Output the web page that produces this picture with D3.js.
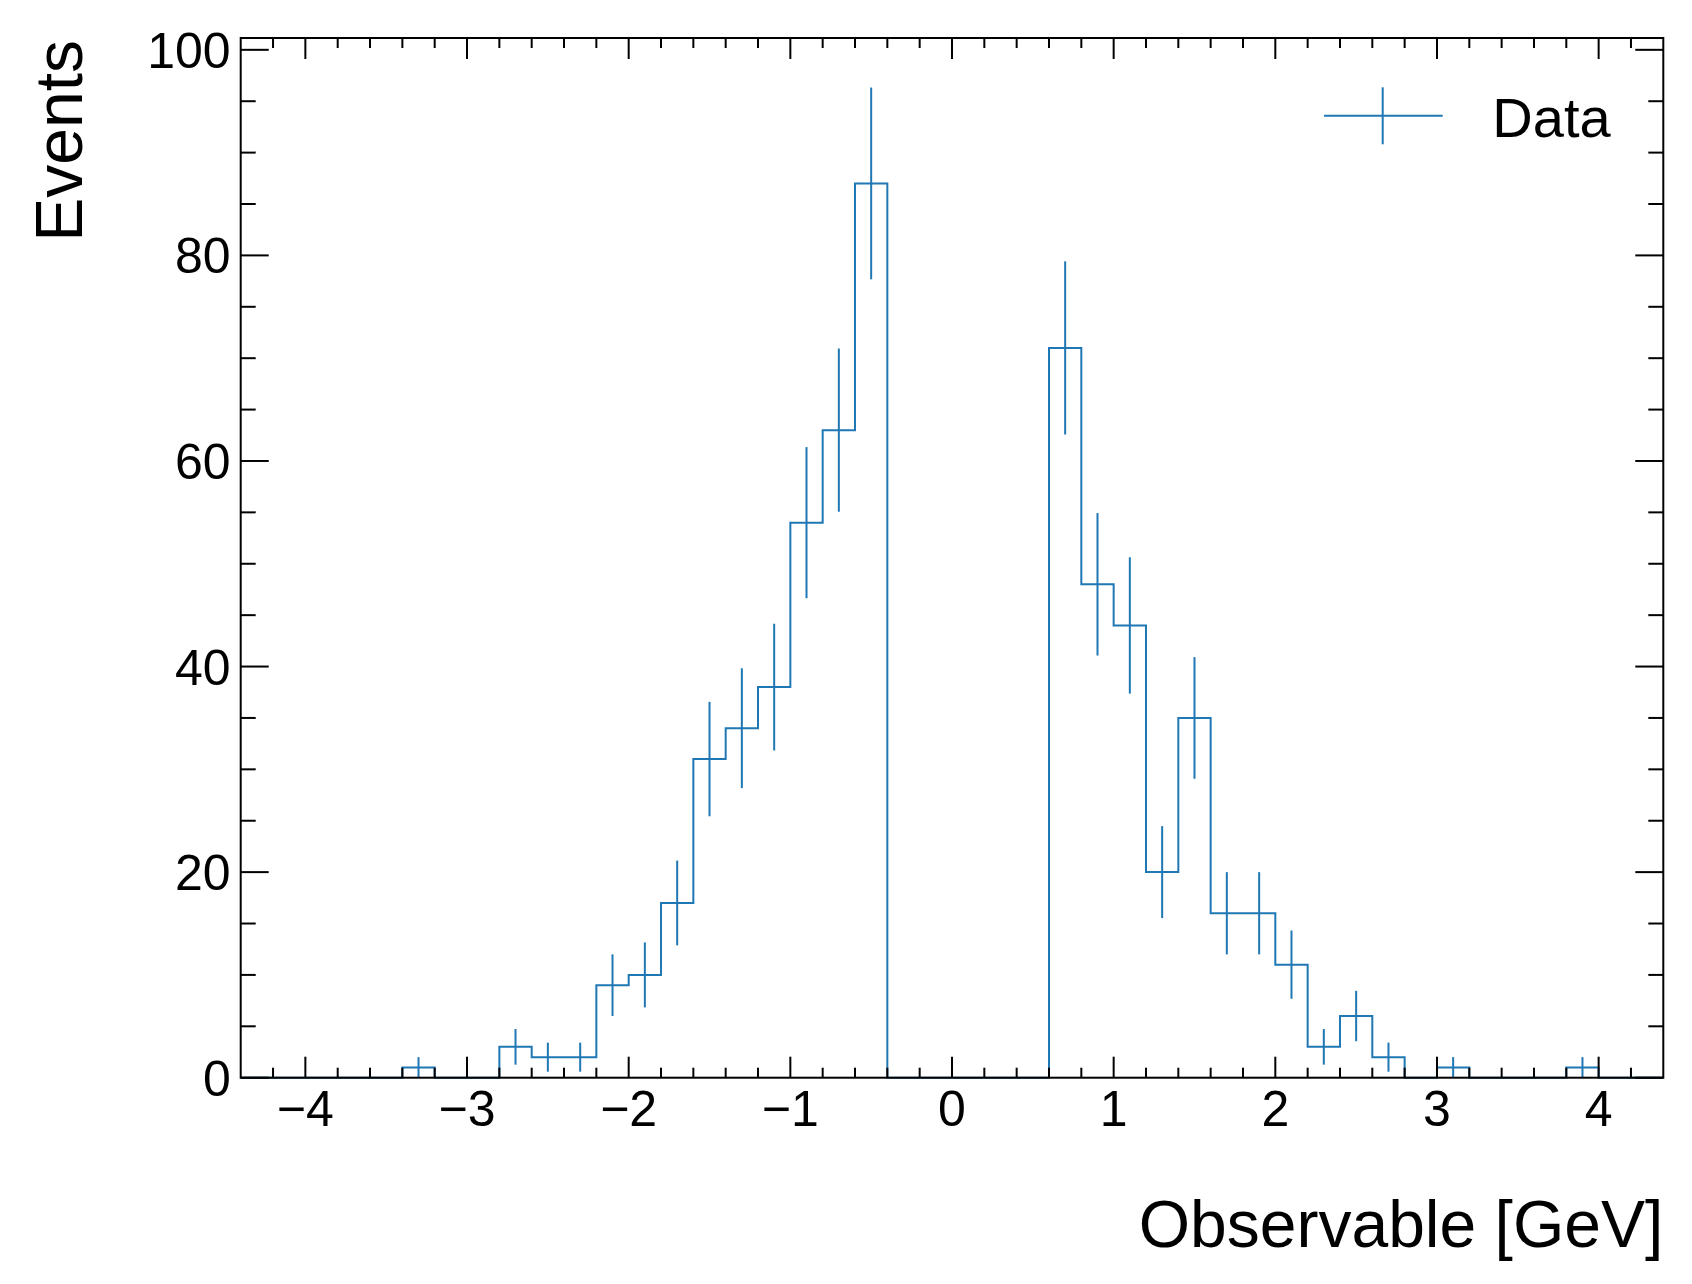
<!DOCTYPE html>
<html>
<head>
<meta charset="utf-8">
<script src="https://cdn.jsdelivr.net/npm/d3@7"></script>
<style>
  html, body { margin: 0; padding: 0; background: #fff; }
  svg text { font-family: "Liberation Sans", Arial, Helvetica, sans-serif; fill: #000; }
</style>
</head>
<body>
<svg id="chart" width="1692" height="1284"></svg>
<script>
// ---- data ----
const binEdgesStart = -4.4;
const binWidth = 0.2;
// counts for the 44 bins from -4.4 to 4.4
const counts = [
  0, 0, 0, 0, 0,          // -4.4 .. -3.4
  1,                      // -3.4 .. -3.2
  0, 0,                   // -3.2 .. -2.8
  3, 2, 2,                // -2.8 .. -2.2
  9, 10, 17, 31, 34, 38,  // -2.2 .. -1.0
  54, 63, 87,             // -1.0 .. -0.4
  0, 0, 0, 0, 0,          // -0.4 .. 0.6
  71, 48, 44, 20, 35,     // 0.6 .. 1.6
  16, 16, 11, 3, 6, 2,    // 1.6 .. 2.8
  0,                      // 2.8 .. 3.0
  1,                      // 3.0 .. 3.2
  0, 0, 0,                // 3.2 .. 3.8
  1,                      // 3.8 .. 4.0
  0, 0                    // 4.0 .. 4.4
];
const xMajorTicks = [-4, -3, -2, -1, 0, 1, 2, 3, 4];
const yMajorTicks = [0, 20, 40, 60, 80, 100];
const xLabel = "Observable [GeV]";
const yLabel = "Events";
const legendLabel = "Data";

// ---- layout ----
const W = 1692, H = 1284;
const X0 = 240.7, X1 = 1663.3, Y0 = 38, Y1 = 1077.7;
const color = "#1f77b4";
const svg = d3.select("#chart");

const x = d3.scaleLinear().domain([-4.4, 4.4]).range([X0, X1]);
const y = d3.scaleLinear().domain([0, 101.15]).range([Y1, Y0]);

const bins = counts.map((c, i) => {
  const lo = +(binEdgesStart + i * binWidth).toFixed(6);
  return { lo: lo, hi: +(lo + binWidth).toFixed(6), c: c };
});

// histogram step path
const stepPts = [[bins[0].lo, 0]];
bins.forEach(b => { stepPts.push([b.lo, b.c]); stepPts.push([b.hi, b.c]); });
stepPts.push([bins[bins.length - 1].hi, 0]);
const line = d3.line().x(d => x(d[0])).y(d => y(d[1]));

const plot = svg.append("g");
plot.append("path")
  .attr("d", line(stepPts))
  .attr("fill", "none")
  .attr("stroke", color)
  .attr("stroke-width", 2);

// error bars
plot.selectAll("line.err")
  .data(bins.filter(b => b.c > 0))
  .join("line")
  .attr("class", "err")
  .attr("x1", d => x((d.lo + d.hi) / 2))
  .attr("x2", d => x((d.lo + d.hi) / 2))
  .attr("y1", d => y(d.c - Math.sqrt(d.c)))
  .attr("y2", d => y(d.c + Math.sqrt(d.c)))
  .attr("stroke", color)
  .attr("stroke-width", 2);

// ---- frame & ticks ----
const axisColor = "#000";
const axes = svg.append("g").attr("stroke", axisColor).attr("stroke-width", 2);
axes.append("rect")
  .attr("x", X0).attr("y", Y0)
  .attr("width", X1 - X0).attr("height", Y1 - Y0)
  .attr("fill", "none");

const xMinor = d3.range(-4.4, 4.4001, 0.2).map(v => +v.toFixed(6))
  .filter(v => v > -4.4 && v < 4.4 && !xMajorTicks.some(m => Math.abs(m - v) < 1e-6));
const yMinor = d3.range(0, 101, 5).filter(v => v > 0 && v % 20 !== 0);

const xMajLen = 21, xMinLen = 10, yMajLen = 28, yMinLen = 15;
xMajorTicks.forEach(v => {
  axes.append("line").attr("x1", x(v)).attr("x2", x(v)).attr("y1", Y1).attr("y2", Y1 - xMajLen);
  axes.append("line").attr("x1", x(v)).attr("x2", x(v)).attr("y1", Y0).attr("y2", Y0 + xMajLen);
});
xMinor.forEach(v => {
  axes.append("line").attr("x1", x(v)).attr("x2", x(v)).attr("y1", Y1).attr("y2", Y1 - xMinLen);
  axes.append("line").attr("x1", x(v)).attr("x2", x(v)).attr("y1", Y0).attr("y2", Y0 + xMinLen);
});
yMajorTicks.forEach(v => {
  axes.append("line").attr("x1", X0).attr("x2", X0 + yMajLen).attr("y1", y(v)).attr("y2", y(v));
  axes.append("line").attr("x1", X1).attr("x2", X1 - yMajLen).attr("y1", y(v)).attr("y2", y(v));
});
yMinor.forEach(v => {
  axes.append("line").attr("x1", X0).attr("x2", X0 + yMinLen).attr("y1", y(v)).attr("y2", y(v));
  axes.append("line").attr("x1", X1).attr("x2", X1 - yMinLen).attr("y1", y(v)).attr("y2", y(v));
});

// tick labels
const fmt = d3.format("d");
svg.append("g").selectAll("text")
  .data(xMajorTicks)
  .join("text")
  .attr("x", d => x(d))
  .attr("y", 1126)
  .attr("text-anchor", "middle")
  .attr("font-size", 50)
  .text(d => fmt(d));

svg.append("g").selectAll("text")
  .data(yMajorTicks)
  .join("text")
  .attr("x", X0 - 10)
  .attr("y", d => y(d) + 18)
  .attr("text-anchor", "end")
  .attr("font-size", 50)
  .text(d => fmt(d));

// axis labels
svg.append("text")
  .attr("x", X1)
  .attr("y", 1247)
  .attr("text-anchor", "end")
  .attr("font-size", 66)
  .text(xLabel);

svg.append("text")
  .attr("transform", `translate(81.7, ${Y0 + 2}) rotate(-90)`)
  .attr("text-anchor", "end")
  .attr("font-size", 66)
  .text(yLabel);

// legend
const lg = svg.append("g");
lg.append("line").attr("x1", 1324).attr("x2", 1442.7).attr("y1", 115.7).attr("y2", 115.7)
  .attr("stroke", color).attr("stroke-width", 2);
lg.append("line").attr("x1", 1382.7).attr("x2", 1382.7).attr("y1", 87.3).attr("y2", 144.3)
  .attr("stroke", color).attr("stroke-width", 2);
lg.append("text").attr("x", 1492.3).attr("y", 136.7).attr("font-size", 56).text(legendLabel);
</script>
</body>
</html>
